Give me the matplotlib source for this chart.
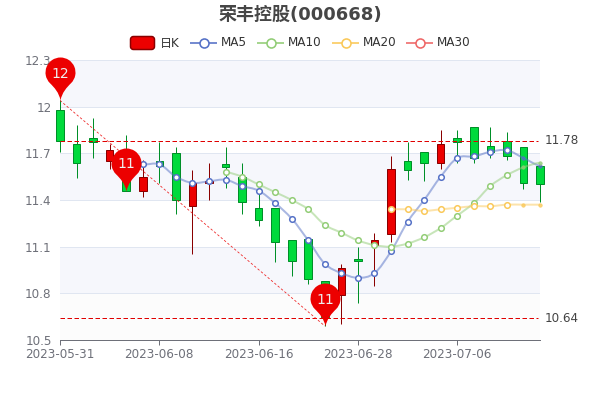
import numpy as np
import matplotlib
matplotlib.use('Agg')
import matplotlib.pyplot as plt
from matplotlib.path import Path
from matplotlib.patches import PathPatch, FancyBboxPatch

plt.rcParams['font.family'] = ['DejaVu Sans', 'Noto Sans CJK SC']

dates = ['2023-05-31', '2023-06-01', '2023-06-02', '2023-06-05', '2023-06-06', '2023-06-07',
         '2023-06-08', '2023-06-09', '2023-06-12', '2023-06-13', '2023-06-14', '2023-06-15',
         '2023-06-16', '2023-06-19', '2023-06-20', '2023-06-21', '2023-06-26', '2023-06-27',
         '2023-06-28', '2023-06-29', '2023-06-30', '2023-07-03', '2023-07-04', '2023-07-05',
         '2023-07-06', '2023-07-07', '2023-07-10', '2023-07-11', '2023-07-12', '2023-07-13']

opens = [11.98, 11.76, 11.80, 11.65, 11.62, 11.46, 11.65, 11.70, 11.36, 11.51,
         11.63, 11.55, 11.35, 11.35, 11.14, 11.15, 10.88, 10.79, 11.02, 11.11,
         11.18, 11.65, 11.71, 11.64, 11.80, 11.87, 11.75, 11.78, 11.74, 11.62]
closes = [11.78, 11.64, 11.77, 11.72, 11.46, 11.55, 11.62, 11.40, 11.51, 11.52,
          11.61, 11.39, 11.27, 11.13, 11.01, 10.89, 10.65, 10.96, 11.01, 11.14,
          11.60, 11.59, 11.64, 11.76, 11.77, 11.67, 11.71, 11.68, 11.51, 11.50]
lows = [11.71, 11.54, 11.67, 11.60, 11.46, 11.42, 11.51, 11.31, 11.05, 11.40,
        11.48, 11.31, 11.23, 11.00, 10.91, 10.86, 10.59, 10.60, 10.74, 10.85,
        11.13, 11.53, 11.52, 11.60, 11.64, 11.64, 11.67, 11.66, 11.47, 11.39]
highs = [12.04, 11.88, 11.93, 11.76, 11.82, 11.66, 11.77, 11.74, 11.59, 11.64,
         11.74, 11.64, 11.46, 11.35, 11.14, 11.15, 10.88, 10.99, 11.10, 11.19,
         11.68, 11.77, 11.71, 11.85, 11.85, 11.87, 11.87, 11.84, 11.74, 11.62]

nan = np.nan
ma5 = [nan, nan, nan, nan, 11.67, 11.63, 11.63, 11.55, 11.51, 11.52,
       11.53, 11.49, 11.46, 11.38, 11.28, 11.14, 10.99, 10.93, 10.90, 10.93,
       11.07, 11.26, 11.40, 11.55, 11.67, 11.68, 11.71, 11.72, 11.67, 11.62]
ma10 = [nan, nan, nan, nan, nan, nan, nan, nan, nan, nan,
        11.58, 11.55, 11.50, 11.45, 11.40, 11.34, 11.24, 11.19, 11.14, 11.11,
        11.10, 11.12, 11.16, 11.22, 11.30, 11.38, 11.49, 11.56, 11.61, 11.64]
ma20 = [nan] * 20 + [11.34, 11.34, 11.33, 11.34, 11.35, 11.36, 11.36, 11.37, 11.37, 11.37]

yticks = [10.5, 10.8, 11.1, 11.4, 11.7, 12.0, 12.3]
ytick_labels = ['10.5', '10.8', '11.1', '11.4', '11.7', '12', '12.3']
xtick_pos = [0, 6, 12, 18, 24]

high_line = 11.78
low_line = 10.64
pin_idx = [0, 4, 16]
pin_val = [12.04, 11.46, 10.59]
pin_text = ['12', '11', '11']

UP, UP_EDGE = '#ec0000', '#8a0000'
DOWN, DOWN_EDGE = '#00da3c', '#008f28'
PX = 0.72  # one pixel in points at dpi 100


def smooth_path(xs, ys):
    # bezier through the points, like the smooth lines in echarts
    verts = [(xs[0], ys[0])]
    codes = [Path.MOVETO]
    n = len(xs)
    for i in range(n - 1):
        y0 = ys[max(i - 1, 0)]
        y3 = ys[min(i + 2, n - 1)]
        verts.append((xs[i] + 0.35, ys[i] + (ys[i + 1] - y0) * 0.17))
        verts.append((xs[i + 1] - 0.35, ys[i + 1] - (y3 - ys[i]) * 0.17))
        verts.append((xs[i + 1], ys[i + 1]))
        codes += [Path.CURVE4] * 3
    return Path(verts, codes)


def pin_marker():
    r, cy = 15, 28
    arc = Path.arc(-45, 225)
    v = arc.vertices * r + [0, cy]
    start, end = v[0], v[-1]
    verts = list(v) + [(end[0] + 4.5, end[1] - 4.5), (-1.5, 8), (0, 0),
                       (1.5, 8), (start[0] - 4.5, start[1] - 4.5), tuple(start), tuple(start)]
    codes = list(arc.codes) + [Path.CURVE4] * 6 + [Path.CLOSEPOLY]
    return Path(verts, codes)


def draw_ma(ax, values, color, z):
    values = np.array(values)
    xs = np.where(~np.isnan(values))[0]
    ys = values[xs]
    ax.add_patch(PathPatch(smooth_path(xs, ys), fc='none', ec=color, lw=2 * PX, alpha=0.5,
                           zorder=z, clip_on=False))
    big = xs < 28
    ax.plot(xs[big], ys[big], ls='none', marker='o', ms=5.6 * PX, mfc='white', mec=color,
            mew=1.5 * PX, zorder=z + 0.1, clip_on=False)
    ax.plot(xs[~big], ys[~big], ls='none', marker='o', ms=3.5 * PX, mfc=color, mec=color,
            mew=0.5, alpha=0.8, zorder=z + 0.1, clip_on=False)


fig = plt.figure(figsize=(6, 4), dpi=100)
ax = fig.add_axes([0.1, 0.15, 0.8, 0.7])

x = np.arange(len(dates))
ax.set_xlim(0, 29)
ax.set_ylim(10.5, 12.3)

# background bands and grid
band_colors = ['#fcfcfc', '#f6f7fc', 'white', '#f6f7fc', 'white', '#f6f7fc']
for i, c in enumerate(band_colors):
    ax.axhspan(yticks[i], yticks[i + 1], color=c, lw=0, zorder=0)
ax.set_yticks(yticks, ytick_labels)
ax.grid(axis='y', color='#e0e6f1', lw=1 * PX, zorder=0.5)
ax.set_axisbelow(True)

ax.set_xticks(xtick_pos, [dates[i] for i in xtick_pos])
ax.tick_params(axis='x', length=5 * PX, width=1 * PX, color='#6e7079', labelcolor='#6e7079',
               labelsize=12 * PX, pad=2.3)
ax.tick_params(axis='y', length=0, labelcolor='#6e7079', labelsize=12 * PX, pad=6)
for side in ['top', 'left', 'right']:
    ax.spines[side].set_visible(False)
ax.spines['bottom'].set_color('#6e7079')
ax.spines['bottom'].set_linewidth(1 * PX)

# candles
for i in x:
    rising = closes[i] >= opens[i]
    fill, edge = (UP, UP_EDGE) if rising else (DOWN, DOWN_EDGE)
    ax.vlines(i, lows[i], highs[i], color=edge, lw=1 * PX, zorder=2, clip_on=False)
    ax.bar(i, abs(closes[i] - opens[i]), bottom=min(opens[i], closes[i]), width=0.46,
           color=fill, edgecolor=edge, linewidth=1 * PX, zorder=2.1, clip_on=False)

draw_ma(ax, ma5, '#5470c6', 3)
draw_ma(ax, ma10, '#91cc75', 3.2)
draw_ma(ax, ma20, '#fac858', 3.4)

# mark lines
for val in [high_line, low_line]:
    ax.plot([0, 28.9], [val, val], color='#e00000', lw=1 * PX, ls=(0, (4.5, 2.5)), zorder=4)
    ax.annotate(f'{val:.2f}', (29, val), xytext=(5 * PX, 0), textcoords='offset points',
                va='center', ha='left', fontsize=12 * PX, color='#444444', annotation_clip=False)
ax.plot([pin_idx[0], pin_idx[2]], [pin_val[0], pin_val[2]], color='#ee2222', lw=0.8 * PX,
        ls=(0, (3, 2.5)), zorder=4)

# pins
marker = pin_marker()
for i, v, t in zip(pin_idx, pin_val, pin_text):
    ax.plot([i], [v], ls='none', marker=marker, ms=86 * PX, mfc=UP, mec=UP, mew=0,
            zorder=5, clip_on=False)
    ax.annotate(t, (i, v), xytext=(0, 26.5 * PX), textcoords='offset points', ha='center',
                va='center', color='#eeeeee', fontsize=14 * PX, zorder=6, annotation_clip=False)

# title and legend, placed in pixels
top = fig.add_axes([0, 0, 1, 1], zorder=10)
top.set_xlim(0, 600)
top.set_ylim(400, 0)
top.axis('off')
top.text(300, 14.5, '荣丰控股(000668)', ha='center', va='center', fontsize=18 * PX,
         fontweight='bold', color='#464646')

top.add_patch(FancyBboxPatch((130.5, 36.5), 24, 13, boxstyle='round,pad=0,rounding_size=3',
                             fc=UP, ec=UP_EDGE, lw=1.5 * PX))
top.text(160, 43, '日K', va='center', fontsize=12 * PX, color='#333333')

legend_items = [('MA5', '#5470c6', 191), ('MA10', '#91cc75', 258),
                ('MA20', '#fac858', 333), ('MA30', '#ee6666', 407)]
for name, color, left in legend_items:
    top.plot([left, left + 25], [43, 43], color=color, lw=2 * PX, alpha=0.8)
    top.plot([left + 12.5], [43], marker='o', ms=9 * PX, mfc='white', mec=color, mew=1.6 * PX)
    top.text(left + 30, 43, name, va='center', fontsize=12 * PX, color='#333333')

fig.savefig('out.png', dpi=100)
